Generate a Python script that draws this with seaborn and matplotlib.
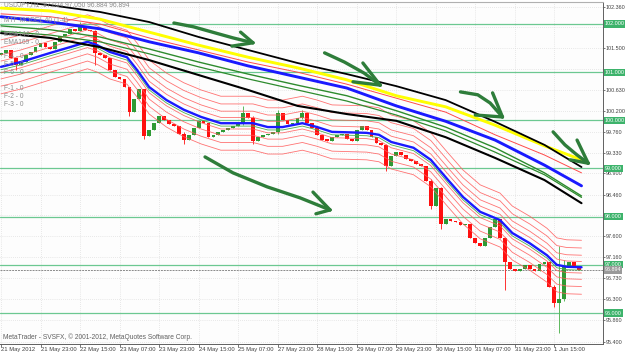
import numpy as np
import pandas as pd
import matplotlib
matplotlib.use("Agg")
import matplotlib.pyplot as plt
import seaborn as sns
from matplotlib.transforms import blended_transform_factory

# ---------------- data ----------------
time_labels = ["21 May 2012", "21 May 23:00", "22 May 15:00", "23 May 07:00", "23 May 23:00",
               "24 May 15:00", "25 May 07:00", "27 May 23:00", "28 May 15:00", "29 May 07:00",
               "29 May 23:00", "30 May 15:00", "31 May 07:00", "31 May 23:00", "1 Jun 15:00"]
label_bars = [0, 16, 32, 48, 64, 80, 96, 112, 128, 144, 160, 176, 192, 208, 224]

price_ticks = [102.360, 101.930, 101.500, 101.060, 100.630, 100.200, 99.760, 99.330, 98.900,
               98.460, 98.030, 97.600, 97.160, 96.730, 96.300, 95.860, 95.400]
hidden_ticks = [101.930, 101.060, 98.030]
levels = [102.0, 101.0, 100.0, 99.0, 98.0, 97.0, 96.0]
last_price = 96.894

first_open = 101.35
closes = [101.40, 101.45, 101.30, 101.15, 101.22, 101.35, 101.42, 101.52, 101.60, 101.52,
          101.48, 101.62, 101.75, 101.80, 101.90, 101.85, 101.95, 101.88, 101.85, 101.40,
          101.35, 101.30, 101.05, 100.90, 100.85, 100.70, 100.18, 100.45, 100.65, 99.68,
          99.80, 99.95, 100.10, 100.00, 99.92, 99.88, 99.72, 99.60, 99.70, 99.85,
          99.98, 99.95, 99.65, 99.70, 99.75, 99.80, 99.85, 99.88, 99.92, 100.15,
          100.05, 99.58, 99.65, 99.70, 99.72, 99.75, 100.15, 100.00, 99.92, 99.95,
          100.05, 100.15, 99.95, 99.85, 99.70, 99.60, 99.58, 99.65, 99.70, 99.72,
          99.62, 99.58, 99.80, 99.88, 99.80, 99.65, 99.52, 99.48, 99.05, 99.25,
          99.35, 99.28, 99.20, 99.15, 99.10, 99.05, 98.75, 98.22, 98.60, 97.85,
          97.95, 97.90, 97.88, 97.82, 97.85, 97.55, 97.45, 97.40, 97.55, 97.78,
          97.95, 97.55, 97.05, 96.92, 96.88, 96.92, 97.00, 96.92, 96.88, 97.02,
          97.05, 96.55, 96.20, 96.30, 96.95, 97.05, 96.95, 96.89]
candle_bars = list(range(0, 2 * len(closes), 2))

wick_index = [3, 16, 19, 26, 29, 37, 49, 51, 56, 61, 78, 87, 89, 102, 112, 113, 114]
wick_high = [101.30, 102.04, 101.88, 100.70, 100.66, 99.75, 100.30, 100.08, 100.22, 100.22,
             99.50, 98.78, 98.62, 97.58, 96.58, 97.40, 97.10]
wick_low = [101.05, 101.85, 101.15, 100.10, 99.62, 99.50, 99.90, 99.50, 99.72, 100.02,
            98.95, 98.15, 97.75, 96.48, 96.12, 95.59, 96.25]

ma_bars = [0, 20, 40, 60, 80, 100, 120, 140, 160, 180, 200, 220, 235]
black_upper = [102.50, 102.39, 102.25, 102.04, 101.73, 101.46, 101.19, 100.96, 100.71, 100.42, 99.97, 99.49, 99.03]
yellow_ma = [102.33, 102.27, 102.10, 101.83, 101.56, 101.31, 101.09, 100.84, 100.51, 100.28, 99.90, 99.47, 99.18]
red_ma = [102.21, 102.15, 102.00, 101.71, 101.46, 101.21, 101.00, 100.75, 100.46, 100.17, 99.70, 99.28, 98.91]
blue_slow = [102.15, 102.04, 101.90, 101.63, 101.40, 101.13, 100.90, 100.67, 100.30, 99.98, 99.59, 99.07, 98.64]
green_a = [101.96, 101.88, 101.73, 101.48, 101.21, 100.96, 100.73, 100.51, 100.20, 99.86, 99.43, 98.91, 98.43]
green_b = [101.85, 101.77, 101.63, 101.38, 101.11, 100.86, 100.63, 100.40, 100.11, 99.78, 99.34, 98.87, 98.40]
black_lower = [101.81, 101.71, 101.52, 101.25, 100.94, 100.63, 100.30, 100.13, 99.99, 99.65, 99.22, 98.76, 98.28]

fast_bars = [0, 8, 20, 28, 35, 39, 44, 51, 55, 60, 67, 74, 81, 89, 102, 108, 114, 122, 128, 134,
             148, 153, 158, 167, 174, 181, 187, 194, 202, 207, 214, 221, 225, 229, 235]
blue_fast = [101.11, 101.21, 101.40, 101.52, 101.63, 101.56, 101.42, 101.31, 101.05, 100.69,
             100.42, 100.22, 100.07, 99.94, 99.94, 99.86, 99.86, 99.94, 99.86, 99.76,
             99.74, 99.70, 99.55, 99.43, 99.18, 98.76, 98.41, 98.10, 97.93, 97.66,
             97.45, 97.20, 97.00, 96.96, 96.95]
envelope_offsets = [0.12, 0.25, 0.40, 0.56]
green_fast_offset = -0.06

# hand-drawn arrows (bar, price)
arrows = [
    ([70, 78, 87, 94, 102], [102.02, 101.94, 101.81, 101.71, 101.61], [(97, 101.83), (93.5, 101.54)]),
    ([131, 139, 147, 153.5], [101.40, 101.21, 100.98, 100.73], [(146.5, 101.19), (142.5, 100.80)]),
    ([186, 193, 198, 203], [100.59, 100.53, 100.36, 100.07], [(199, 100.57), (192, 100.11)]),
    ([223.5, 228.3, 233.2, 237.7], [99.76, 99.49, 99.28, 99.11], [(233.2, 99.59), (230.4, 99.18)]),
    ([82.6, 93.9, 107.7, 121.1, 133.2], [99.24, 98.91, 98.62, 98.39, 98.14], [(126.3, 98.51), (127.5, 98.06)]),
]

# ---------------- figure ----------------
sns.set_theme(style="white")
plt.rcParams["font.family"] = ["Liberation Sans", "DejaVu Sans"]
ylab_size = 3.9
xlab_size = 4.2
info_size = 4.8

W, H = 625, 353
fig = plt.figure(figsize=(W / 100, H / 100), dpi=100)
fig.patch.set_facecolor("white")
ax = fig.add_axes([0, 9 / H, 603 / W, 342 / H])
ax.set_facecolor("#fdfdfd")

ax.set_xlim(-0.4, 243.7)
ax.set_ylim(95.357, 102.456)

# grid
for b in label_bars:
    ax.axvline(b, color="#d4d4d4", lw=0.5, ls=(0, (1, 2)), zorder=0)
for p in price_ticks:
    ax.axhline(p, color="#d4d4d4", lw=0.5, ls=(0, (1, 2)), zorder=0)

# level lines
for lv in levels:
    ax.axhline(lv, color="#6cc891", lw=0.9, zorder=1)
ax.axhline(last_price, color="#8a8a8a", lw=0.7, ls=(0, (2, 1)), zorder=1)

# indicator texts (behind)
txt_color = "#8c8c8c"
info = [("USDJPY,H1  97.024 97.050 96.884 96.894", 5), ("MTF MODEL 40 (1-4)", 20),
        ("EMA144 - 0", 35), ("EMA169 - 0", 43), ("F-4 - 0", 57), ("F-5 - 0", 64),
        ("F-6 - 0", 72), ("F-1 - 0", 88), ("F-2 - 0", 96), ("F-3 - 0", 104)]
for s, yp in info:
    fig.text(4 / W, 1 - yp / H, s, fontsize=info_size, color=txt_color, va="center", ha="left", zorder=1)

# candles
opens = [first_open] + closes[:-1]
df = pd.DataFrame({"bar": candle_bars, "open": opens, "close": closes})
df["high"] = df[["open", "close"]].max(axis=1)
df["low"] = df[["open", "close"]].min(axis=1)
for i, h, l in zip(wick_index, wick_high, wick_low):
    df.loc[i, "high"] = max(df.loc[i, "high"], h)
    df.loc[i, "low"] = min(df.loc[i, "low"], l)
up = df["close"] >= df["open"]
body_col = np.where(up, "#2f9a35", "#ff1010")
wick_col = np.where(up, "#5cb85c", "#ff3030")
ax.vlines(df["bar"], df["low"], df["high"], colors=wick_col, lw=0.7, zorder=2)
bottoms = df[["open", "close"]].min(axis=1)
heights = (df["close"] - df["open"]).abs().clip(lower=0.025)
ax.bar(df["bar"], heights, bottom=bottoms, width=1.55, color=body_col, linewidth=0, zorder=2)

# envelopes around fast line
fast = np.array(blue_fast)
for off in envelope_offsets:
    for sgn in (1, -1):
        sns.lineplot(x=fast_bars, y=fast + sgn * off, ax=ax, color="#ff5a5a", lw=0.6,
                     sort=False, estimator=None, zorder=3, alpha=0.85)
sns.lineplot(x=fast_bars, y=fast + green_fast_offset, ax=ax, color="#4caf50", lw=0.6,
             sort=False, estimator=None, zorder=3)
sns.lineplot(x=fast_bars, y=fast, ax=ax, color="#1a1aff", lw=1.7, sort=False, estimator=None, zorder=4)

# slow MAs
lines = [(black_lower, "#000000", 1.5), (green_b, "#2e8b2e", 0.9), (green_a, "#2e8b2e", 1.0),
         (blue_slow, "#1a1aff", 2.1), (red_ma, "#ff4a4a", 0.7), (yellow_ma, "#ffff00", 2.1),
         (black_upper, "#000000", 1.3)]
for vals, col, lw in lines:
    sns.lineplot(x=ma_bars, y=vals, ax=ax, color=col, lw=lw, sort=False, estimator=None, zorder=4)

# arrows
for xs, ys, arms in arrows:
    ax.plot(xs, ys, color="#2e7d3a", lw=2.4, solid_capstyle="round", solid_joinstyle="round", zorder=5)
    for (axx, ayy) in arms:
        ax.plot([axx, xs[-1]], [ayy, ys[-1]], color="#2e7d3a", lw=2.4, solid_capstyle="round", zorder=5)

# axes styling
ax.spines["left"].set_visible(False)
ax.spines["top"].set_color("#b0b0b0")
ax.spines["top"].set_linewidth(0.8)
for s in ["right", "bottom"]:
    ax.spines[s].set_color("#606060")
    ax.spines[s].set_linewidth(0.7)
    ax.spines[s].set_linestyle((0, (1, 1)))

ax.yaxis.tick_right()
ax.set_yticks(price_ticks)
ax.set_yticklabels(["" if p in hidden_ticks else f"{p:.3f}" for p in price_ticks])
ax.set_xticks(label_bars)
ax.set_xticklabels(time_labels, ha="left")
ax.tick_params(axis="y", which="both", right=True, left=False, length=1.5, width=0.6, color="#606060",
               labelsize=ylab_size, labelcolor="#404040", pad=0.6)
ax.tick_params(axis="x", which="both", bottom=True, length=2, width=0.6, color="#606060",
               labelsize=xlab_size, labelcolor="#404040", pad=0.3)
ax.set_xlabel("")
ax.set_ylabel("")
ax.grid(False)

# right-side level boxes
tr = blended_transform_factory(ax.transAxes, ax.transData)
for lv in levels:
    ax.text(1.003, lv, f"{lv:.3f}", transform=tr, fontsize=ylab_size, color="white", va="center", ha="left",
            clip_on=False, zorder=6,
            bbox=dict(boxstyle="square,pad=0.2", fc="#3db36b", ec="none"))
ax.text(1.003, last_price, f"{last_price:.3f}", transform=tr, fontsize=ylab_size, color="white", va="center",
        ha="left", clip_on=False, zorder=6,
        bbox=dict(boxstyle="square,pad=0.2", fc="#9a9a9a", ec="none"))

fig.text(3 / W, 1 - 337 / H, "MetaTrader - SVSFX, \u00a9 2001-2012, MetaQuotes Software Corp.",
         fontsize=info_size, color="#606060", va="center", ha="left")

fig.savefig("out.png", dpi=100, facecolor="white")
